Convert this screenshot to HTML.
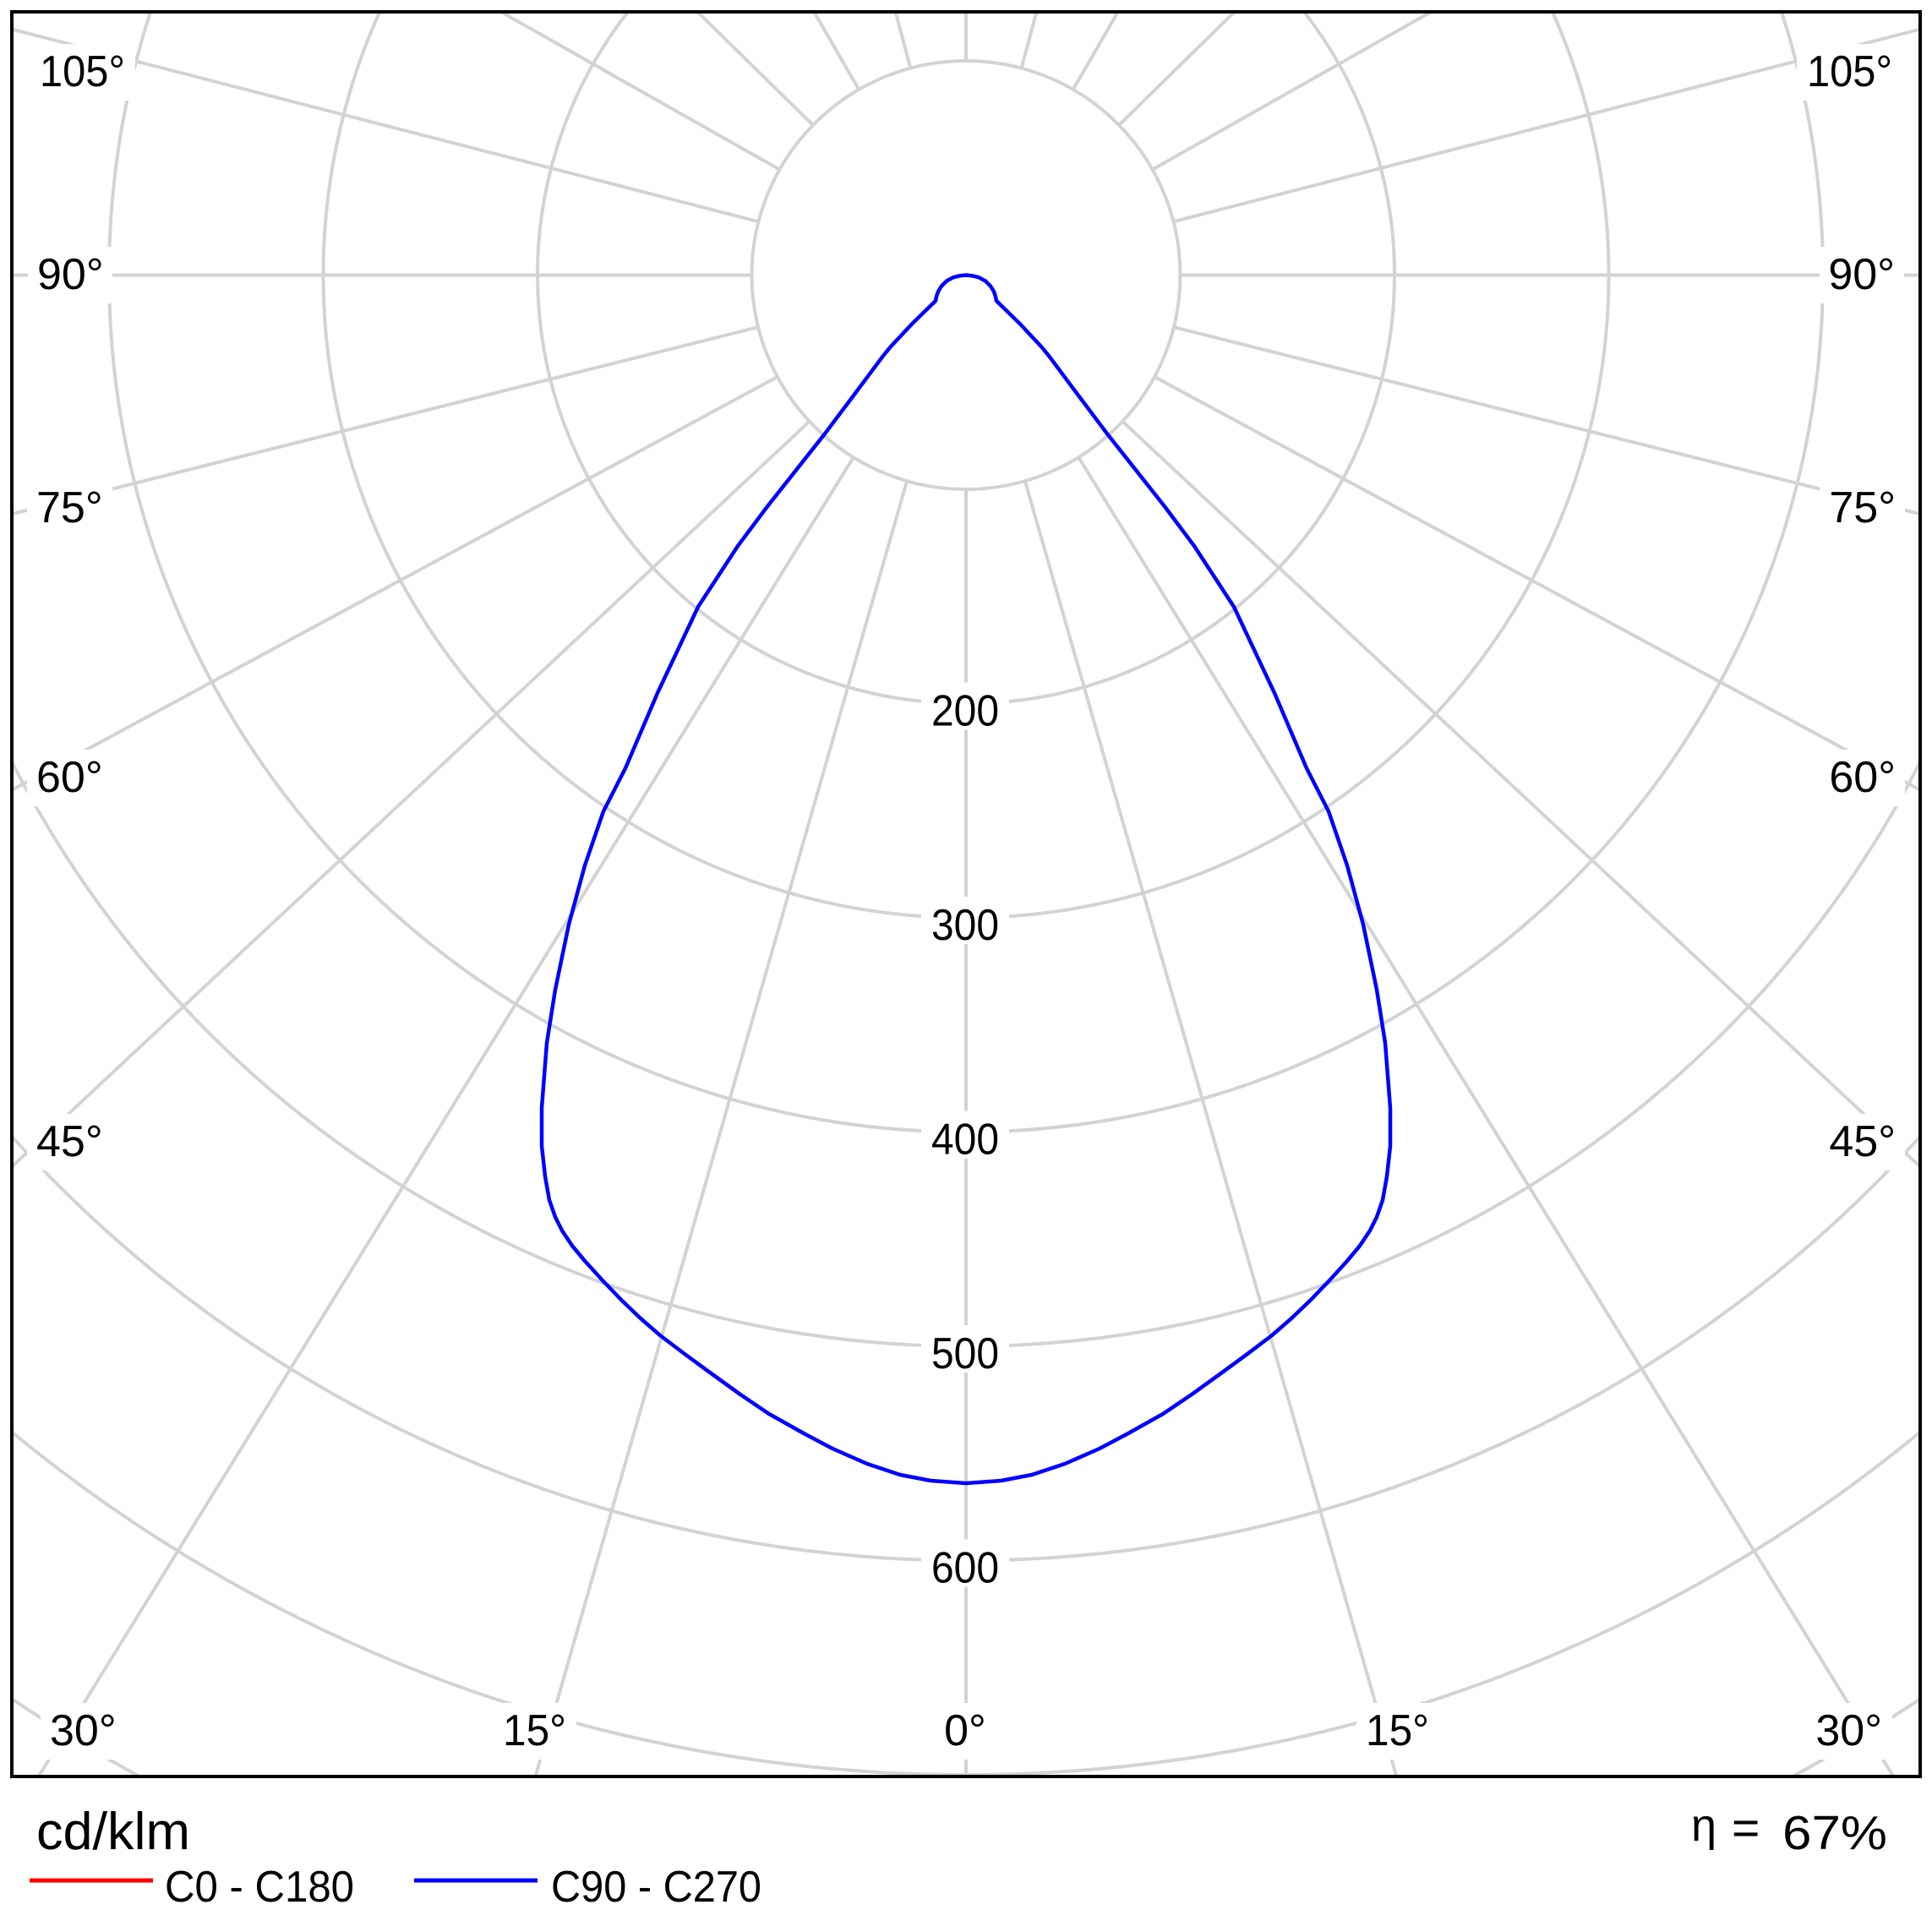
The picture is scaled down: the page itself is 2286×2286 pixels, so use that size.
<!DOCTYPE html>
<html>
<head>
<meta charset="utf-8">
<style>
  html,body{margin:0;padding:0;background:#fff;width:2286px;height:2286px;overflow:hidden;}
  svg{display:block;}
  text{font-family:"Liberation Sans","DejaVu Sans",sans-serif;fill:#000;}
</style>
</head>
<body>
<svg xmlns="http://www.w3.org/2000/svg" width="2286" height="2286" viewBox="0 0 2286 2286">
  <rect x="0" y="0" width="2286" height="2286" fill="#fff"/>

  <!-- circles (clipped analytically to the frame) -->
  <g stroke="#d3d3d3" stroke-width="4" fill="none">
    <circle cx="1143" cy="325.5" r="253.5"/>
    <path d="M743,14 A507,507 0 1 0 1543,14"/>
    <path d="M449.2,14 A760.5,760.5 0 1 0 1836.8,14"/>
    <path d="M178,14 A1014,1014 0 1 0 2108,14"/>
    <path d="M14,901.6 A1267.5,1267.5 0 0 0 2272,901.6"/>
    <path d="M14,1344.7 A1521,1521 0 0 0 2272,1344.7"/>
    <path d="M14,1694.5 A1774.5,1774.5 0 0 0 2272,1694.5"/>
    <path d="M14,2010.2 A2028,2028 0 0 0 164.8,2102"/>
    <path d="M2121.2,2102 A2028,2028 0 0 0 2272,2010.2"/>
  </g>

  <!-- spokes -->
  <g transform="translate(1143,325.5)" stroke="#d3d3d3" stroke-width="4" fill="none">
    <line x1="0" y1="253.5" x2="0" y2="1776.5"/>
    <line x1="0" y1="-253.5" x2="0" y2="-311.5"/>
    <line x1="-253.5" y1="0" x2="-1129" y2="0"/>
    <line x1="253.5" y1="0" x2="1129" y2="0"/>
    <!-- 15 -->
    <line x1="-69.87" y1="243.68" x2="-509.4" y2="1776.5"/>
    <line x1="69.87" y1="243.68" x2="509.4" y2="1776.5"/>
    <!-- 30 -->
    <line x1="-133.23" y1="215.67" x2="-1097.4" y2="1776.5"/>
    <line x1="133.23" y1="215.67" x2="1097.4" y2="1776.5"/>
    <!-- 45 -->
    <line x1="-185.21" y1="173.09" x2="-1129" y2="1055.1"/>
    <line x1="185.21" y1="173.09" x2="1129" y2="1055.1"/>
    <!-- 60 -->
    <line x1="-223.10" y1="120.38" x2="-1129" y2="609.2"/>
    <line x1="223.10" y1="120.38" x2="1129" y2="609.2"/>
    <!-- 75 -->
    <line x1="-245.91" y1="61.58" x2="-1129" y2="282.7"/>
    <line x1="245.91" y1="61.58" x2="1129" y2="282.7"/>
    <!-- 105 -->
    <line x1="-245.48" y1="-63.25" x2="-1129" y2="-290.9"/>
    <line x1="245.48" y1="-63.25" x2="1129" y2="-290.9"/>
    <!-- 120 -->
    <line x1="-220.61" y1="-124.87" x2="-550.3" y2="-311.5"/>
    <line x1="220.61" y1="-124.87" x2="550.3" y2="-311.5"/>
    <!-- 135 -->
    <line x1="-181.02" y1="-177.47" x2="-317.7" y2="-311.5"/>
    <line x1="181.02" y1="-177.47" x2="317.7" y2="-311.5"/>
    <!-- 150 -->
    <line x1="-126.75" y1="-219.54" x2="-179.84" y2="-311.5"/>
    <line x1="126.75" y1="-219.54" x2="179.84" y2="-311.5"/>
    <!-- 165 -->
    <line x1="-65.61" y1="-244.86" x2="-83.47" y2="-311.5"/>
    <line x1="65.61" y1="-244.86" x2="83.47" y2="-311.5"/>
  </g>

  <!-- label background boxes -->
  <g fill="#fff">
    <rect x="36" y="52" width="124" height="67"/>
    <rect x="33" y="292" width="100" height="67"/>
    <rect x="32" y="568" width="101" height="67"/>
    <rect x="32" y="887" width="101" height="67"/>
    <rect x="32" y="1318" width="101" height="67"/>
    <rect x="2126" y="52" width="124" height="67"/>
    <rect x="2153" y="292" width="100" height="67"/>
    <rect x="2153" y="568" width="101" height="67"/>
    <rect x="2153" y="887" width="101" height="67"/>
    <rect x="2153" y="1318" width="101" height="67"/>
    <rect x="48" y="2015" width="101" height="67"/>
    <rect x="2138" y="2015" width="101" height="67"/>
    <rect x="584" y="2015" width="98" height="67"/>
    <rect x="1605" y="2015" width="98" height="67"/>
    <rect x="1106" y="2015" width="73" height="67"/>
    <rect x="1090" y="807.5" width="104" height="56"/>
    <rect x="1090" y="1061" width="104" height="56"/>
    <rect x="1090" y="1314.5" width="104" height="56"/>
    <rect x="1090" y="1568" width="104" height="56"/>
    <rect x="1090" y="1821.5" width="104" height="56"/>
  </g>

  <!-- C90-C270 curve -->
  <polyline fill="none" stroke="#0000ff" stroke-width="4.5" stroke-linejoin="round" stroke-linecap="round"
    points="1143,325.5 1136,326.2 1128,328.2 1120,332.5 1114,338.5 1110,345 1108,351 1107,356
    1079.6,382.7 1052.8,411.4 1045,421 1010.7,467 976.3,512.8 907.4,600 873,646 826,718 778,820
    740,909 714,960 692,1024 673,1094 657,1171 647,1234 641,1311 641,1356 645,1392 650,1420 657,1440
    665,1456 677,1474 692,1492 712,1514 735,1538 758,1560 781,1580 810,1602 840,1624 876,1650
    910,1673 951,1696 985,1714 1026,1732 1065,1745 1101.5,1752 1143,1755
    1184.5,1752 1221,1745 1260,1732 1301,1714 1335,1696 1376,1673 1410,1650 1446,1624 1476,1602
    1505,1580 1528,1560 1551,1538 1574,1514 1594,1492 1609,1474 1621,1456 1629,1440 1636,1420
    1641,1392 1645,1356 1645,1311 1639,1234 1629,1171
    1613,1094 1594,1024 1572,960 1546,909 1508,820 1460,718 1413,646 1378.6,600 1309.7,512.8
    1275.3,467 1241,421 1233.2,411.4 1206.4,382.7 1179,356 1178,351 1176,345 1172,338.5
    1166,332.5 1158,328.2 1150,326.2 1143,325.5"/>

  <!-- frame -->
  <rect x="14" y="14" width="2258" height="2088" fill="none" stroke="#000" stroke-width="4"/>

  <!-- angle labels -->
  <g font-size="52">
    <text x="47" y="102" textLength="101" lengthAdjust="spacingAndGlyphs">105°</text>
    <text x="44" y="342">90°</text>
    <text x="43" y="618">75°</text>
    <text x="43" y="937">60°</text>
    <text x="43" y="1368">45°</text>

    <text x="2239" y="102" text-anchor="end" textLength="101" lengthAdjust="spacingAndGlyphs">105°</text>
    <text x="2242" y="342" text-anchor="end">90°</text>
    <text x="2243" y="618" text-anchor="end">75°</text>
    <text x="2243" y="937" text-anchor="end">60°</text>
    <text x="2243" y="1368" text-anchor="end">45°</text>

    <text x="59" y="2065">30°</text>
    <text x="2227" y="2065" text-anchor="end">30°</text>
    <text x="595" y="2065" textLength="75" lengthAdjust="spacingAndGlyphs">15°</text>
    <text x="1616" y="2065" textLength="75" lengthAdjust="spacingAndGlyphs">15°</text>
    <text x="1142" y="2065" text-anchor="middle">0°</text>

    <text x="1102" y="858.5" textLength="80" lengthAdjust="spacingAndGlyphs">200</text>
    <text x="1102" y="1112" textLength="80" lengthAdjust="spacingAndGlyphs">300</text>
    <text x="1102" y="1365.5" textLength="80" lengthAdjust="spacingAndGlyphs">400</text>
    <text x="1102" y="1619" textLength="80" lengthAdjust="spacingAndGlyphs">500</text>
    <text x="1102" y="1872.5" textLength="80" lengthAdjust="spacingAndGlyphs">600</text>
  </g>

  <!-- footer -->
  <text x="43" y="2188" font-size="62" textLength="182" lengthAdjust="spacingAndGlyphs">cd/klm</text>
  <text x="2001" y="2178" font-size="54">η</text>
  <text x="2049" y="2182" font-size="57">=</text>
  <text x="2109" y="2188" font-size="57" textLength="124" lengthAdjust="spacingAndGlyphs">67%</text>

  <!-- legend -->
  <line x1="35" y1="2225" x2="181" y2="2225" stroke="#ff0000" stroke-width="5"/>
  <text x="195" y="2250" font-size="52" textLength="224" lengthAdjust="spacingAndGlyphs">C0 - C180</text>
  <line x1="490" y1="2225" x2="636" y2="2225" stroke="#0000ff" stroke-width="5"/>
  <text x="652" y="2250" font-size="52" textLength="249" lengthAdjust="spacingAndGlyphs">C90 - C270</text>
</svg>
</body>
</html>
